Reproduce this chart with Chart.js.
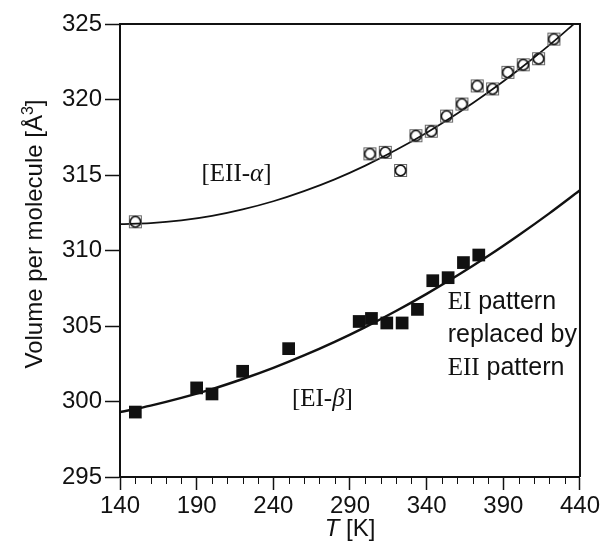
<!DOCTYPE html>
<html>
<head>
<meta charset="utf-8">
<script src="https://cdn.jsdelivr.net/npm/chart.js@4.4.1/dist/chart.umd.min.js"></script>
<style>
  html, body { margin: 0; padding: 0; background: #fff; }
  #wrap { width: 602px; height: 544px; }
</style>
</head>
<body>
<div id="wrap"><canvas id="volumeChart" width="602" height="544"></canvas></div>
<script>
// [EII-alpha] measured points (open squares with circles)
const alphaTemps = [150, 303, 313, 323, 333, 343, 353, 363, 373, 383, 393, 403, 413, 423];
const alphaVolumes = [311.9, 316.4, 316.5, 315.3, 317.6, 317.9, 318.9, 319.7, 320.9, 320.7, 321.8, 322.3, 322.7, 324.0];

// [EI-beta] measured points (filled squares)
const betaTemps = [150, 190, 200, 220, 250, 296, 304, 314, 324, 334, 344, 354, 364, 374];
const betaVolumes = [299.3, 300.9, 300.5, 302.0, 303.5, 305.3, 305.5, 305.2, 305.2, 306.1, 308.0, 308.2, 309.2, 309.7];

// fitted curves
const alphaCurveTemps = [140, 160, 180, 200, 220, 240, 260, 280, 300, 320, 340, 360, 380, 400, 420, 436];
const alphaCurveVolumes = [311.75, 311.81, 311.99, 312.29, 312.72, 313.26, 313.93, 314.71, 315.62, 316.65, 317.8, 319.07, 320.46, 321.97, 323.6, 325.0];

const betaCurveTemps = [140, 160, 180, 200, 220, 240, 260, 280, 300, 320, 340, 360, 380, 400, 420, 440];
const betaCurveVolumes = [299.3, 299.73, 300.24, 300.82, 301.49, 302.23, 303.05, 303.95, 304.93, 305.99, 307.13, 308.34, 309.63, 311.01, 312.46, 313.99];

const xTicks = [140, 190, 240, 290, 340, 390, 440];
const yTicks = [295, 300, 305, 310, 315, 320, 325];

const SANS = "'Liberation Sans', Arial, Helvetica, sans-serif";
const SERIF = "'Liberation Serif', 'Times New Roman', serif";
const INK = "#111";

function toPoints(xs, ys) {
  return xs.map((x, i) => ({ x, y: ys[i] }));
}

function makeOpenMarker() {
  const c = document.createElement("canvas");
  c.width = 15;
  c.height = 15;
  const g = c.getContext("2d");
  g.strokeStyle = "#666";
  g.lineWidth = 1;
  g.strokeRect(1.5, 1.5, 12, 12);
  g.beginPath();
  g.arc(7.5, 7.5, 5.2, 0, Math.PI * 2);
  g.strokeStyle = INK;
  g.lineWidth = 1.6;
  g.stroke();
  return c;
}

function drawRuns(ctx, x, y, runs, align) {
  let total = 0;
  runs.forEach((r) => {
    ctx.font = r.font;
    total += ctx.measureText(r.text).width;
  });
  let cx = align === "center" ? x - total / 2 : x;
  ctx.textBaseline = "alphabetic";
  ctx.textAlign = "left";
  runs.forEach((r) => {
    ctx.font = r.font;
    ctx.fillText(r.text, cx, y + (r.dy || 0));
    cx += ctx.measureText(r.text).width;
  });
}

const decorPlugin = {
  id: "decor",
  afterDraw(chart) {
    const { ctx, chartArea, scales } = chart;
    const xs = scales.x;
    const ys = scales.y;
    ctx.save();

    // top and right frame
    ctx.strokeStyle = INK;
    ctx.lineWidth = 2;
    ctx.beginPath();
    ctx.moveTo(chartArea.left, chartArea.top);
    ctx.lineTo(chartArea.right, chartArea.top);
    ctx.lineTo(chartArea.right, chartArea.bottom);
    ctx.stroke();

    // minor ticks on T axis
    ctx.lineWidth = 1;
    for (let t = 150; t < 440; t += 10) {
      if ((t - 140) % 50 === 0) continue;
      const px = Math.round(xs.getPixelForValue(t)) + 0.5;
      ctx.beginPath();
      ctx.moveTo(px, chartArea.bottom);
      ctx.lineTo(px, chartArea.bottom + 7);
      ctx.stroke();
    }

    ctx.fillStyle = INK;

    // series labels
    drawRuns(ctx, xs.getPixelForValue(216), ys.getPixelForValue(314.6), [
      { text: "[EII-", font: `25px ${SERIF}` },
      { text: "α", font: `italic 25px ${SERIF}` },
      { text: "]", font: `25px ${SERIF}` },
    ], "center");
    drawRuns(ctx, xs.getPixelForValue(272), ys.getPixelForValue(299.7), [
      { text: "[EI-", font: `25px ${SERIF}` },
      { text: "β", font: `italic 25px ${SERIF}` },
      { text: "]", font: `25px ${SERIF}` },
    ], "center");

    const noteX = xs.getPixelForValue(353.7);
    drawRuns(ctx, noteX, 309, [
      { text: "EI", font: `25px ${SERIF}` },
      { text: " pattern", font: `25px ${SANS}` },
    ], "left");
    drawRuns(ctx, noteX, 342, [
      { text: "replaced by", font: `25px ${SANS}` },
    ], "left");
    drawRuns(ctx, noteX, 375, [
      { text: "EII", font: `25px ${SERIF}` },
      { text: " pattern", font: `25px ${SANS}` },
    ], "left");

    // axis titles
    drawRuns(ctx, (chartArea.left + chartArea.right) / 2, 536, [
      { text: "T", font: `italic 24px ${SANS}` },
      { text: " [K]", font: `24px ${SANS}` },
    ], "center");

    ctx.translate(42, 234);
    ctx.rotate(-Math.PI / 2);
    drawRuns(ctx, 0, 0, [
      { text: "Volume per molecule [Å", font: `24px ${SANS}` },
      { text: "3", font: `16px ${SANS}`, dy: -9 },
      { text: "]", font: `24px ${SANS}` },
    ], "center");

    ctx.restore();
  },
};

const ctx = document.getElementById("volumeChart").getContext("2d");

new Chart(ctx, {
  type: "scatter",
  data: {
    datasets: [
      {
        label: "EII-alpha",
        data: toPoints(alphaTemps, alphaVolumes),
        pointStyle: makeOpenMarker(),
        pointRadius: 7,
        order: 1,
      },
      {
        label: "EI-beta",
        data: toPoints(betaTemps, betaVolumes),
        pointStyle: "rect",
        pointRadius: 9,
        backgroundColor: INK,
        borderColor: INK,
        borderWidth: 0,
        order: 2,
      },
      {
        label: "EII-alpha fit",
        data: toPoints(alphaCurveTemps, alphaCurveVolumes),
        showLine: true,
        pointRadius: 0,
        borderColor: INK,
        borderWidth: 1.7,
        tension: 0.4,
        cubicInterpolationMode: "monotone",
        order: 3,
      },
      {
        label: "EI-beta fit",
        data: toPoints(betaCurveTemps, betaCurveVolumes),
        showLine: true,
        pointRadius: 0,
        borderColor: INK,
        borderWidth: 2.4,
        tension: 0.4,
        cubicInterpolationMode: "monotone",
        order: 4,
      },
    ],
  },
  options: {
    responsive: false,
    animation: false,
    devicePixelRatio: 1,
    layout: { padding: { left: 0, right: 22, top: 24, bottom: 0 } },
    plugins: {
      legend: { display: false },
      tooltip: { enabled: false },
    },
    scales: {
      x: {
        type: "linear",
        min: 140,
        max: 440,
        afterBuildTicks: (scale) => {
          scale.ticks = xTicks.map((v) => ({ value: v }));
        },
        afterFit: (scale) => {
          scale.height = 67;
        },
        ticks: {
          color: INK,
          font: { family: SANS, size: 24 },
          padding: 2,
          maxRotation: 0,
        },
        grid: {
          drawOnChartArea: false,
          tickLength: 13,
          color: INK,
          tickWidth: 1.5,
        },
        border: { color: INK, width: 2 },
      },
      y: {
        type: "linear",
        min: 295,
        max: 325,
        afterBuildTicks: (scale) => {
          scale.ticks = yTicks.map((v) => ({ value: v }));
        },
        afterFit: (scale) => {
          scale.width = 120;
        },
        ticks: {
          color: INK,
          font: { family: SANS, size: 24 },
          padding: 3,
        },
        grid: {
          drawOnChartArea: false,
          tickLength: 15,
          color: INK,
          tickWidth: 1.5,
        },
        border: { color: INK, width: 2 },
      },
    },
  },
  plugins: [decorPlugin],
});
</script>
</body>
</html>
